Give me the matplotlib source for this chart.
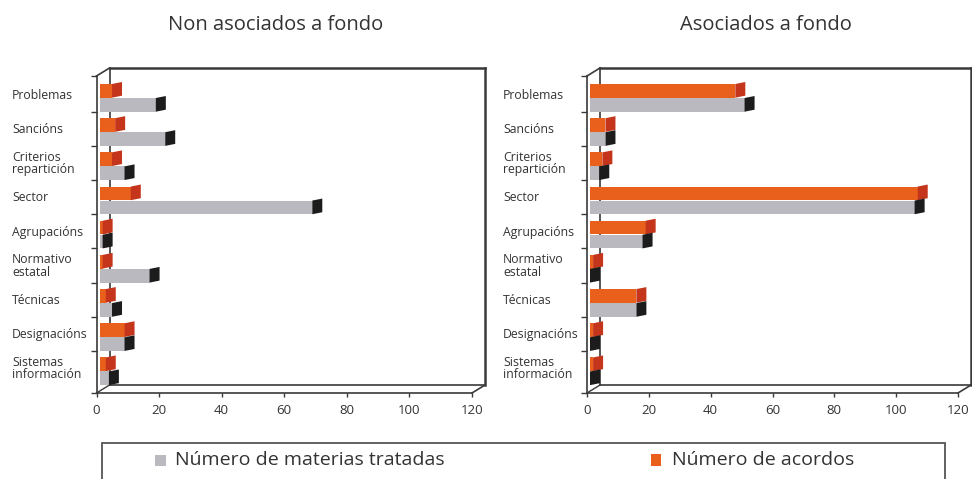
import numpy as np
import matplotlib
matplotlib.use("Agg")
import matplotlib.pyplot as plt
import matplotlib.transforms as mtransforms
from matplotlib.patches import Polygon, Rectangle
from matplotlib.lines import Line2D

plt.rcParams['font.family'] = ['Open Sans', 'DejaVu Sans']

categorias = ["Problemas", "Sancións", "Criterios\nrepartición", "Sector",
              "Agrupacións", "Normativo\nestatal", "Técnicas", "Designacións",
              "Sistemas\ninformación"]

# Non asociados a fondo
materias_non = [18, 21, 8, 68, 1, 16, 4, 8, 3]
acordos_non = [4, 5, 4, 10, 1, 1, 2, 8, 2]
# Asociados a fondo
materias_asoc = [50, 5, 3, 105, 17, 0, 15, 0, 0]
acordos_asoc = [47, 5, 4, 106, 18, 1, 15, 1, 1]

titulos = ["Non asociados a fondo", "Asociados a fondo"]
xticks = [0, 20, 40, 60, 80, 100, 120]
leyenda = ["Número de materias tratadas", "Número de acordos"]

GRIS, GRIS_LADO = "#b9b9bf", "#1c1c1c"
LARANXA, LARANXA_LADO = "#e8601c", "#c4351c"
LINHA = "#3a3a3a"

W, H = 972, 479
fig = plt.figure(figsize=(W / 100, H / 100), dpi=100)
fig.patch.set_facecolor("white")

# depth of the fake 3d box, in pixels
FX, FY = 13, 8
# bar end cap, in pixels
CX, CY = 10, 2
YLIM = (8.63, -0.644)


def panel(rect_px, materias, acordos, titulo, label_x, title_x):
    x0, x1, ytop, ybot = rect_px
    ax = fig.add_axes([x0 / W, 1 - ybot / H, (x1 - x0) / W, (ybot - ytop) / H])
    wpx, hpx = x1 - x0, ybot - ytop
    ax.set_xlim(0, 120)
    ax.set_ylim(*YLIM)
    ax.patch.set_alpha(0)
    for s in ax.spines.values():
        s.set_visible(False)

    px = 120 / wpx
    py = (YLIM[0] - YLIM[1]) / hpx
    ox, oy = FX / wpx, FY / hpx

    # box outline: front edges, floor and back wall
    segs = [
        ((0, 0), (0, 1), 1.2), ((0, 0), (1, 0), 1.2),
        ((0, 1), (ox, 1 + oy), 1.2), ((0, 0), (ox, oy), 1.0),
        ((1, 0), (1 + ox, oy), 1.2),
        ((ox, oy), (ox, 1 + oy), 1.2), ((ox, 1 + oy), (1 + ox, 1 + oy), 1.8),
        ((1 + ox, 1 + oy), (1 + ox, oy), 1.8), ((ox, oy), (1 + ox, oy), 1.2),
    ]
    for a, b, lw in segs:
        ax.add_line(Line2D([a[0], b[0]], [a[1], b[1]], transform=ax.transAxes,
                           color=LINHA, lw=lw, clip_on=False, zorder=1))

    sx = 3 * px
    h = 0.40
    for i in range(len(categorias)):
        for val, yc, cor, lado in [(acordos[i], i - 0.21, LARANXA, LARANXA_LADO),
                                   (materias[i], i + 0.20, GRIS, GRIS_LADO)]:
            top, bot = yc - h / 2, yc + h / 2
            ax.add_patch(Rectangle((sx, top), val, h, facecolor=cor,
                                   edgecolor="none", zorder=3, clip_on=False))
            xe = sx + val
            ax.add_patch(Polygon([(xe, top), (xe + CX * px, top - CY * py),
                                  (xe + CX * px, bot - CY * py), (xe, bot)],
                                 closed=True, facecolor=lado, edgecolor="none",
                                 zorder=3, clip_on=False))

    ax.set_xticks(xticks)
    ax.set_xticklabels([str(t) for t in xticks], fontsize=9.5, color="#333333")
    ax.set_yticks([YLIM[1]] + [i + 0.4 for i in range(8)] + [YLIM[0]])
    ax.set_yticklabels([])
    ax.tick_params(axis="x", length=3, width=1, color=LINHA, pad=5)
    ax.tick_params(axis="y", length=4, width=1, color=LINHA)

    tr = mtransforms.blended_transform_factory(fig.transFigure, ax.transData)
    for i, cat in enumerate(categorias):
        ax.text(label_x / W, i - 0.08, cat, transform=tr, fontsize=8.8,
                color="#333333", ha="left", va="center", linespacing=0.95)

    fig.text(title_x / W, 1 - 25 / H, titulo, fontsize=14.5,
             color="#333333", ha="center", va="center")
    return ax


panel((96.5, 472, 76, 393), materias_non, acordos_non, titulos[0], 12, 276)
panel((587, 958, 76, 393), materias_asoc, acordos_asoc, titulos[1], 503, 766)

# legend box, cut at the bottom edge of the figure
fig.patches.append(Rectangle((102 / W, -0.05), (945 - 102) / W, 0.05 + (H - 443) / H,
                             transform=fig.transFigure, facecolor="white",
                             edgecolor="#555555", lw=1.3))
ly = 1 - 460 / H
fig.patches.append(Rectangle((155 / W, ly - 5.5 / H), 11 / W, 11 / H,
                             transform=fig.transFigure, facecolor=GRIS, edgecolor="none"))
fig.text(175 / W, ly, leyenda[0], fontsize=14, color="#333333", va="center")
fig.patches.append(Rectangle((651 / W, ly - 6 / H), 10 / W, 12 / H,
                             transform=fig.transFigure, facecolor=LARANXA, edgecolor="none"))
fig.text(672 / W, ly, leyenda[1], fontsize=14, color="#333333", va="center")

fig.savefig("out.png", dpi=100)
